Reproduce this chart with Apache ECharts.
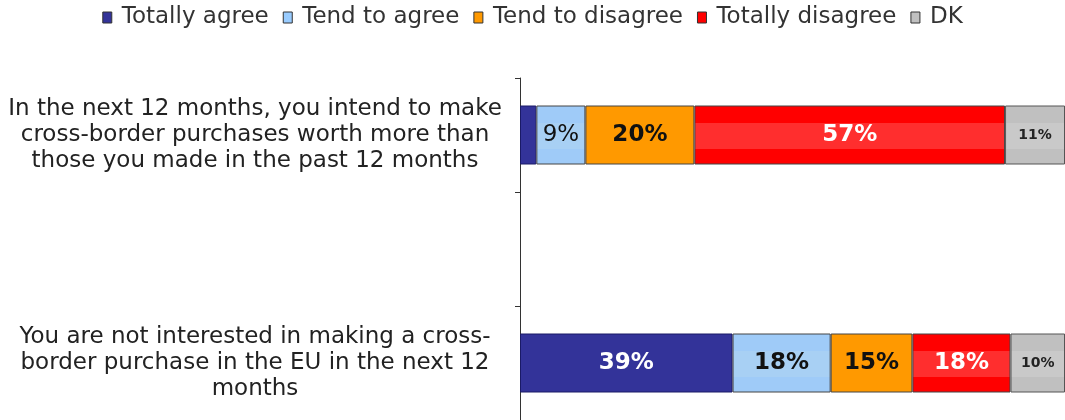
<!DOCTYPE html>
<html>
<head>
<meta charset="utf-8">
<script src="https://cdn.jsdelivr.net/npm/echarts@6/dist/echarts.min.js"></script>
<style>
  html, body { margin: 0; padding: 0; background: #fff; }
  #chart { width: 1065px; height: 420px; }
</style>
</head>
<body>
<div id="chart"></div>
<script>
// Statements, listed top to bottom (the middle slot is an empty spacer row)
const categories = [
  'In the next 12 months, you intend to make\ncross-border purchases worth more than\nthose you made in the past 12 months',
  '',
  'You are not interested in making a cross-\nborder purchase in the EU in the next 12\nmonths'
];

const seriesNames = ['Totally agree', 'Tend to agree', 'Tend to disagree', 'Totally disagree', 'DK'];

// Shares of respondents, in %
const totallyAgree    = [3, null, 39];
const tendToAgree     = [9, null, 18];
const tendToDisagree  = [20, null, 15];
const totallyDisagree = [57, null, 18];
const dontKnow        = [11, null, 10];

const seriesValues = [totallyAgree, tendToAgree, tendToDisagree, totallyDisagree, dontKnow];

const FONT = "'DejaVu Sans', Verdana, sans-serif";

// Fill colours with a faint lighter band across the middle of some segments
function banded(base, light) {
  return {
    type: 'linear', x: 0, y: 0, x2: 0, y2: 1,
    colorStops: [
      { offset: 0, color: base }, { offset: 0.3, color: base },
      { offset: 0.3, color: light }, { offset: 0.74, color: light },
      { offset: 0.74, color: base }, { offset: 1, color: base }
    ]
  };
}

const styles = [
  { fill: '#333399', border: '#1a1a66', text: '#ffffff', size: 23 },
  { fill: banded('#9fcbf8', '#a8d0f4'), legend: '#99ccff', border: '#444', text: '#111', size: 23 },
  { fill: '#ff9900', border: '#444', text: '#111', size: 23 },
  { fill: banded('#ff0000', '#ff2e2e'), legend: '#ff0000', border: '#444', text: '#ffffff', size: 23 },
  { fill: banded('#c0c0c0', '#c9c9c9'), legend: '#c0c0c0', border: '#555', text: '#222', size: 14 }
];

const series = seriesNames.map((name, i) => {
  const st = styles[i];
  return {
    name: name,
    type: 'bar',
    stack: 'total',
    barWidth: 59,
    itemStyle: { color: st.fill, borderColor: st.border, borderWidth: 1 },
    label: {
      show: true,
      position: 'inside',
      color: st.text,
      fontFamily: FONT,
      fontWeight: 'bold',
      fontSize: st.size,
      formatter: p => p.value + '%'
    },
    data: seriesValues[i].map(v => {
      if (v == null) return '-';
      if (v < 5) return { value: v, label: { show: false } };
      if (v < 10) return { value: v, label: { fontWeight: 'normal' } };
      return v;
    })
  };
});

const chart = echarts.init(document.getElementById('chart'), null, { renderer: 'canvas' });
chart.setOption({
  animation: false,
  backgroundColor: '#ffffff',
  textStyle: { fontFamily: FONT },
  legend: {
    top: 1,
    left: 'center',
    itemGap: 14,
    itemWidth: 9,
    itemHeight: 11,
    icon: 'rect',
    textStyle: { fontFamily: FONT, fontSize: 23, color: '#333', padding: [0, 0, 0, 5] },
    data: seriesNames.map((n, i) => ({
      name: n,
      itemStyle: { color: styles[i].legend || styles[i].fill, borderColor: '#333', borderWidth: 1 }
    }))
  },
  grid: { left: 520, right: 0, top: 78, bottom: -4, containLabel: false },
  xAxis: { type: 'value', min: 0, max: 100, show: false },
  yAxis: {
    type: 'category',
    inverse: true,
    data: categories,
    axisLine: { show: true, lineStyle: { color: '#333', width: 1 } },
    axisTick: { show: true, length: 5, inside: false, lineStyle: { color: '#333' } },
    axisLabel: {
      align: 'center',
      margin: 265,
      fontFamily: FONT,
      fontSize: 23,
      lineHeight: 26,
      color: '#222'
    },
    splitLine: { show: false }
  },
  series: series
});
</script>
</body>
</html>
